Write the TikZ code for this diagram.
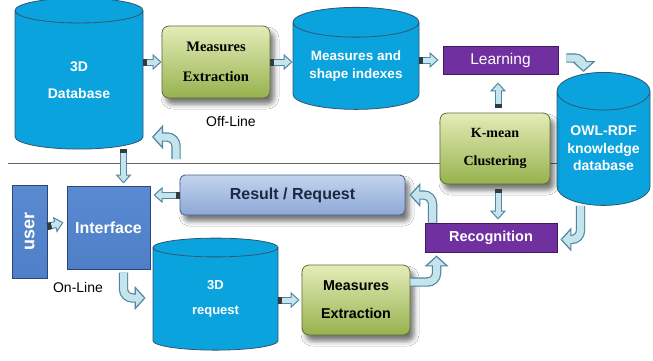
\documentclass[tikz,border=0pt]{standalone}
\usepackage{fontspec}
\usepackage{graphicx}
\setmainfont{Liberation Serif}
\setsansfont{Liberation Sans}
\usetikzlibrary{shapes.geometric,arrows.meta,shadows.blur,calc}
\definecolor{cylc}{HTML}{0BA3DE}
\definecolor{cyledge}{HTML}{2F5670}
\definecolor{purp}{HTML}{7030A0}
\definecolor{purpedge}{HTML}{3F1A60}
\definecolor{gtop}{HTML}{E4ECB8}
\definecolor{gbot}{HTML}{96B24E}
\definecolor{gedge}{HTML}{5E6E34}
\definecolor{btop}{HTML}{C3D4EE}
\definecolor{bbot}{HTML}{8DA8D6}
\definecolor{bedge}{HTML}{4E6290}
\definecolor{ublue}{HTML}{4E7FC8}
\definecolor{ubluetop}{HTML}{5A8AD0}
\definecolor{ublueedge}{HTML}{284679}
\definecolor{afill}{HTML}{C6E4EC}
\definecolor{aedge}{HTML}{4F86A3}
\definecolor{atail}{HTML}{333B40}
\definecolor{restext}{HTML}{1C2844}
\begin{document}
\begin{tikzpicture}[x=1pt,y=-1pt,
  cyl/.style={cylinder, shape border rotate=90, draw=cyledge, line width=0.8pt,
    cylinder uses custom fill, cylinder body fill=cylc, cylinder end fill=cylc,
    text=white, align=center, inner sep=0pt},
  gbox/.style={rounded corners=7pt, draw=gedge, line width=0.8pt, top color=gtop, bottom color=gbot,
    align=center, inner sep=0pt,
    blur shadow={shadow xshift=4pt, shadow yshift=-6pt, shadow blur radius=5pt, shadow opacity=55}},
  pbox/.style={fill=purp, draw=purpedge, line width=0.9pt, text=white, inner sep=0pt},
  rbox/.style={rounded corners=5pt, draw=bedge, line width=0.9pt, top color=btop, bottom color=bbot,
    text=restext, inner sep=0pt,
    blur shadow={shadow xshift=4pt, shadow yshift=-6pt, shadow blur radius=5pt, shadow opacity=55}},
  ubox/.style={draw=ublueedge, line width=1pt, top color=ubluetop, bottom color=ublue, text=white, inner sep=0pt},
  lbl/.style={font=\sffamily\fontsize{14}{16}\selectfont, inner sep=0pt},
  sepline/.style={draw=gray!80!black, line width=0.9pt},
  sfat/.style={draw=aedge, line width=7pt,
    {Rectangle[length=4pt,width=7pt,line width=0pt,color=atail]}-{Triangle[length=9pt,width=16pt,line width=1pt,color=aedge,fill=afill]},
    postaction={draw=afill, line width=5pt,
      {Rectangle[length=4pt,width=7pt,line width=0pt,color=atail]}-{Triangle[length=6.5pt,width=0.5pt,line width=0pt,color=afill,fill=afill]}}},
  cfat/.style={draw=aedge, line width=9.4pt, rounded corners=9pt,
    -{Triangle[length=11pt,width=24pt,line width=1.2pt,color=aedge,fill=afill]},
    postaction={draw=afill, line width=7pt,
      -{Triangle[length=8pt,width=0.5pt,line width=0pt,color=afill,fill=afill]}}}
]
\useasboundingbox (0,0) rectangle (653,360);
\fill[white] (0,0) rectangle (653,360);

% separator line
\coordinate (sepL) at (8,163);
\coordinate (sepR) at (558,163);
\draw[sepline] (sepL) -- (sepR);

% nodes
\node[cyl, minimum width=128pt, minimum height=151pt, aspect=0.4,
  font=\sffamily\bfseries\fontsize{14}{27}\selectfont] (db) at (79,80) {3D\\Database};
\node[gbox, minimum width=108pt, minimum height=72pt,
  font=\rmfamily\bfseries\fontsize{14.5}{30}\selectfont] (me1) at (216,62) {Measures\\Extraction};
\node[cyl, minimum width=126pt, minimum height=102pt, aspect=0.32,
  font=\sffamily\bfseries\fontsize{13.5}{18}\selectfont] (msi) at (356,66) {Measures and\\shape indexes};
\node[pbox, minimum width=115pt, minimum height=28pt,
  font=\sffamily\fontsize{15.5}{18}\selectfont] (learn) at (500.5,60) {Learning};
\node[cyl, minimum width=93pt, minimum height=133pt, aspect=0.52,
  font=\sffamily\bfseries\fontsize{14}{17.5}\selectfont] (owl) at (603.5,148.5) {OWL-RDF\\knowledge\\database};
\node[gbox, minimum width=110pt, minimum height=71pt,
  font=\rmfamily\bfseries\fontsize{14}{28}\selectfont] (km) at (495,148.5) {K-mean\\Clustering};
\node[pbox, minimum width=132pt, minimum height=29pt,
  font=\sffamily\bfseries\fontsize{14.5}{18}\selectfont] (recog) at (491,237.5) {Recognition};
\node[rbox, minimum width=225pt, minimum height=40pt,
  font=\sffamily\bfseries\fontsize{16}{18}\selectfont] (result) at (292.5,195) {Result / Request};
\node[ubox, minimum width=35pt, minimum height=93pt,
  font=\sffamily\bfseries\fontsize{18}{20}\selectfont] (user) at (29.5,231.5) {\rotatebox{90}{user}};
\node[ubox, minimum width=83pt, minimum height=83pt,
  font=\sffamily\bfseries\fontsize{16}{18}\selectfont] (iface) at (108.5,227.5) {Interface};
\node[cyl, minimum width=125pt, minimum height=112pt, aspect=0.4,
  font=\sffamily\bfseries\fontsize{13}{25}\selectfont] (req) at (215.5,299) {3D\\request};
\node[gbox, minimum width=108pt, minimum height=70pt,
  font=\sffamily\bfseries\fontsize{14.3}{28}\selectfont] (me2) at (356,300) {Measures\\Extraction};

\node[lbl] (offl) at (231,121) {Off-Line};
\node[lbl] (onl) at (78,287) {On-Line};

% straight arrows
\draw[sfat] (me1.west -| db.east) -- (me1.west);
\draw[sfat] (me1.east) -- (me1.east -| msi.west);
\draw[sfat] (learn.west -| msi.east) -- ([xshift=-4pt]learn.west);
\coordinate (ifn) at ($(iface.north)+(15,0)$);
\draw[sfat] (ifn |- db.south) -- ([yshift=2pt]ifn);
\coordinate (kms) at ($(km.south)+(3,0)$);
\draw[sfat] ([yshift=-5pt]kms) -- ([yshift=3pt]kms |- recog.north);
\coordinate (kmn) at ($(km.north)+(3,0)$);
\draw[sfat] ([yshift=5pt]kmn) -- ([yshift=-8pt]kmn |- learn.south);
\draw[sfat] (result.west) -- ([xshift=3pt]result.west -| iface.east);
\draw[sfat] ([yshift=5pt]user.east) -- ([xshift=-3pt,yshift=5pt]iface.west);
\draw[sfat] (me2.west -| req.east) -- ([xshift=-2pt]me2.west);

% curved arrows
\coordinate (r1s) at (176,159);
\coordinate (r1e) at (152,137);
\draw[cfat] (r1s) |- (r1e);
\draw[cfat] ([xshift=8pt,yshift=2pt]learn.east) -| ($(owl.north)+(-20,0)$);
\draw[cfat] ($(recog.north west)+(8,0)$) |- ([xshift=4pt]result.east);
\draw[cfat] ($(owl.south)+(-23,0)$) |- ([xshift=3pt,yshift=-2pt]recog.east);
\draw[cfat] ([yshift=18pt]me2.east) -| ($(recog.south west)+(12,3)$);
\draw[cfat] ($(iface.south)+(15,3)$) |- ($(req.west)+(-7,-1)$);
\end{tikzpicture}
\end{document}
